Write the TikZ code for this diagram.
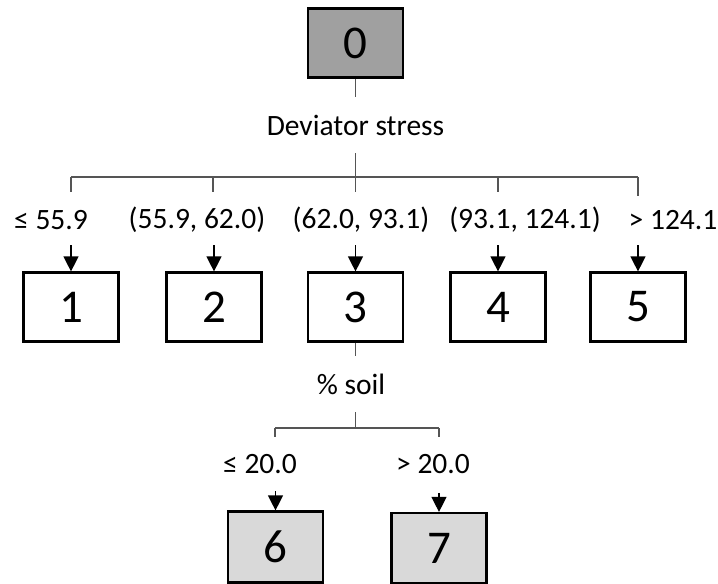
\documentclass[tikz,border=0pt]{standalone}
\usepackage{fontspec}
\setmainfont{Carlito}
\usetikzlibrary{arrows.meta}
\definecolor{rootgray}{HTML}{A0A0A0}
\definecolor{leafgray}{HTML}{D9D9D9}
\definecolor{linegray}{HTML}{555555}
\tikzset{
  treebox/.style={draw=black, line width=2.2pt, minimum width=95pt, minimum height=69pt,
    inner sep=0pt, font=\fontsize{47}{47}\selectfont},
  split/.style={inner sep=0pt, minimum height=56pt, font=\fontsize{29.5}{29.5}\selectfont},
  cond/.style={inner sep=0pt, font=\fontsize{29.5}{29.5}\selectfont},
  branch/.style={draw=linegray, line width=1.2pt},
  feed/.style={draw=black, line width=1.3pt, -{Triangle[width=15pt,length=15pt]}}
}
\begin{document}
\begin{tikzpicture}[x=1pt,y=-1pt]
\useasboundingbox (0,0) rectangle (718,584);

% root and first split
\node[treebox, fill=rootgray] (n0) at (355.5,43) {0};
\node[split] (dev) at (355.5,125) {Deviator stress};
\draw[branch] (n0.south) -- (dev.north);

\coordinate (h1) at (71,177);
\coordinate (h2) at (213,177);
\coordinate (h3) at (355.5,177);
\coordinate (h4) at (498,177);
\coordinate (h5) at (638,177);
\coordinate (t1) at (71,192);
\coordinate (t2) at (213,192);
\coordinate (t3) at (355.5,192);
\coordinate (t4) at (498,192);
\coordinate (t5) at (638,196);
\draw[branch] (dev.south) -- (h3);
\draw[branch] (h1) -- (h5);
\foreach \i in {1,...,5} \draw[branch] (h\i) -- (t\i);

% first level nodes
\node[treebox] (n1) at (71,307) {1};
\node[treebox] (n2) at (214,307) {2};
\node[treebox] (n3) at (355.5,307) {3};
\node[treebox] (n4) at (498,307) {4};
\node[treebox] (n5) at (638,307) {5};

\node[cond] (c1) at (51,220) {≤ 55.9};
\node[cond] (c2) at (197,220) {(55.9, 62.0)};
\node[cond] (c3) at (361,220) {(62.0, 93.1)};
\node[cond] (c4) at (525,220) {(93.1, 124.1)};
\node[cond] (c5) at (673,220) {> 124.1};

\foreach \i in {1,...,5} {
  \coordinate (a\i) at ([yshift=26pt]n\i.north);
  \draw[feed] (a\i) -- (n\i.north);
}

% second split under node 3
\node[split] (soil) at (351,384) {\% soil};
\coordinate (g0) at (355.5,428);
\coordinate (g1) at (275,428);
\coordinate (g2) at (439,428);
\coordinate (s1) at (275,437);
\coordinate (s2) at (439,437);
\draw[branch] (n3.south) -- (n3.south |- soil.north);
\draw[branch] (g0 |- soil.south) -- (g0);
\draw[branch] (g1) -- (g2);
\draw[branch] (g1) -- (s1);
\draw[branch] (g2) -- (s2);

\node[treebox, fill=leafgray, minimum height=71pt] (n6) at (275.5,547) {6};
\node[treebox, fill=leafgray, minimum height=70pt] (n7) at (439,548) {7};

\node[cond] (c6) at (260,464) {≤ 20.0};
\node[cond] (c7) at (433,464) {> 20.0};

\foreach \i in {6,7} {
  \coordinate (a\i) at ([yshift=19pt]n\i.north);
  \draw[feed] (a\i) -- (n\i.north);
}
\end{tikzpicture}
\end{document}
